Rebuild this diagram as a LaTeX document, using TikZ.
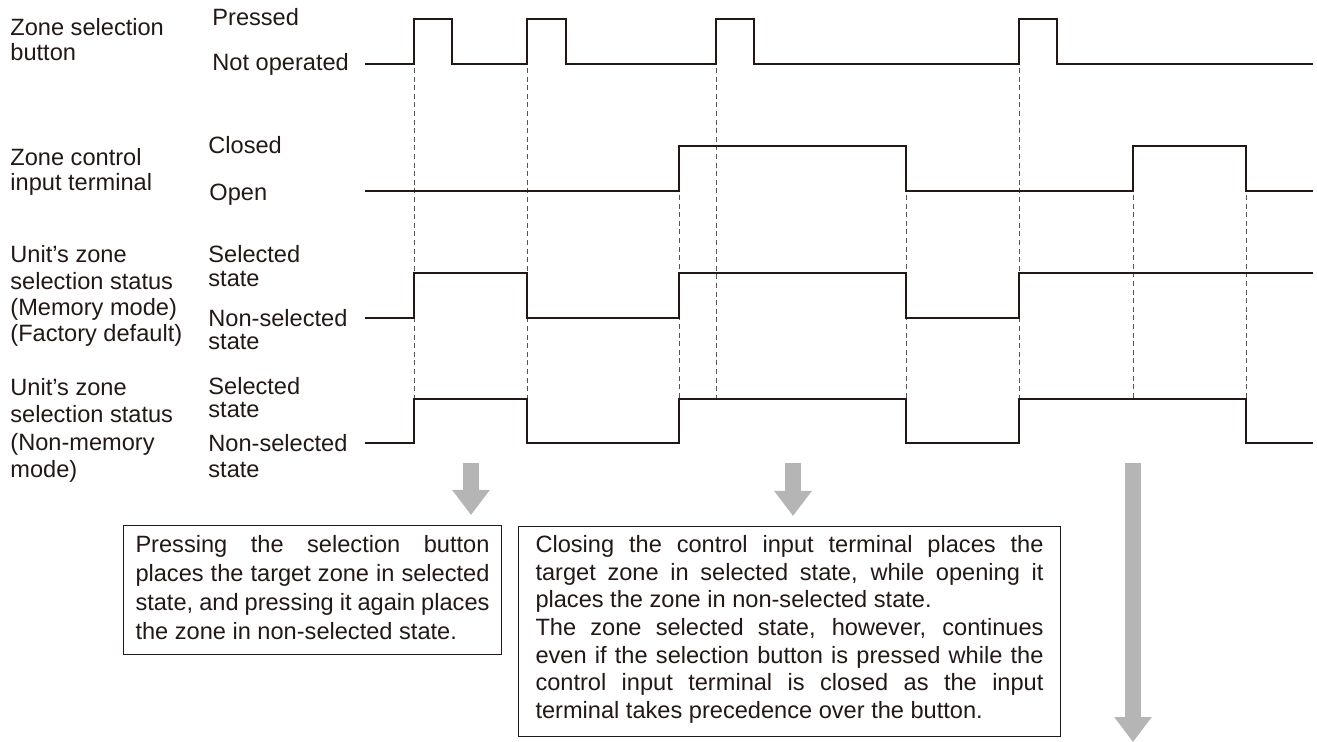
\documentclass[tikz,border=0pt]{standalone}
\usepackage{fontspec}
\setmainfont{Liberation Sans}
\usetikzlibrary{arrows.meta}

\definecolor{ink}{HTML}{231815}
\definecolor{guidegray}{HTML}{555555}
\definecolor{arrowgray}{HTML}{B5B5B5}

\tikzset{
  wave/.style={draw=ink, line width=1.1pt, line join=miter},
  guide/.style={draw=guidegray, line width=0.45pt, dash pattern=on 2.5pt off 1.8pt},
  lbl/.style={anchor=base west, align=left, inner sep=0pt, text=ink,
    font=\fontsize{11.8}{#1}\selectfont},
  lbl/.default=12.5,
  bigarrow/.style={draw=arrowgray, line width=8pt, -{Triangle[width=18pt,length=12.5pt]}},
  notebox/.style={draw=ink, line width=0.5pt, anchor=north west, inner ysep=0pt,
    align=justify, text=ink}
}

\begin{document}
\begin{tikzpicture}[x=0.5pt, y=-0.5pt]
    \useasboundingbox (0,0) rectangle (1317,742);

    % Signal names and levels (base = last line)
    \node[lbl] (btnname) at (10,61) {Zone selection\\button};
    \node[lbl] (btnon) at (212,26) {Pressed};
    \node[lbl] (btnoff) at (212,71) {Not operated};
    \node[lbl] (termname) at (10,191) {Zone control\\input terminal};
    \node[lbl] (termon) at (208,154) {Closed};
    \node[lbl] (termoff) at (209,201) {Open};
    \node[lbl=13.2] (memname) at (10,342) {Unit's zone\\selection status\\(Memory mode)\\(Factory default)};
    \node[lbl=12] (memon) at (208,287) {Selected\\state};
    \node[lbl=11.7] (memoff) at (208,350) {Non-selected\\state};
    \node[lbl=13.8] (nmemname) at (10,478) {Unit's zone\\selection status\\(Non-memory\\mode)};
    \node[lbl=11.7] (nmemon) at (208,418) {Selected\\state};
    \node[lbl=13] (nmemoff) at (208,478) {Non-selected\\state};

    % Timing guides
    \foreach \x/\y in {414/64, 527/64, 716/64, 1019/64, 679/191, 906/191, 1133/191, 1246/191}
        \draw[guide] (\x,\y+4) -- (\x,399);

    % Waveforms
    \draw[wave] (365,64) -- (414,64) -- (414,19) -- (452,19) -- (452,64) -- (527,64) -- (527,19)
        -- (566,19) -- (566,64) -- (716,64) -- (716,19) -- (754,19) -- (754,64) -- (1019,64)
        -- (1019,19) -- (1057,19) -- (1057,64) -- (1313,64);
    \draw[wave] (365,191) -- (679,191) -- (679,146) -- (906,146) -- (906,191) -- (1133,191)
        -- (1133,146) -- (1246,146) -- (1246,191) -- (1313,191);
    \draw[wave] (365,318) -- (414,318) -- (414,273) -- (527,273) -- (527,318) -- (679,318)
        -- (679,273) -- (906,273) -- (906,318) -- (1019,318) -- (1019,273) -- (1313,273);
    \draw[wave] (365,443) -- (414,443) -- (414,399) -- (527,399) -- (527,443) -- (679,443)
        -- (679,399) -- (906,399) -- (906,443) -- (1019,443) -- (1019,399) -- (1246,399)
        -- (1246,443) -- (1313,443);

    % Notes
    \node[notebox, inner xsep=6pt, text width=177pt, font=\fontsize{11.8}{14.5}\selectfont] (box1) at (123,525)
        {\tolerance=10000 \hyphenpenalty=10000 \noindent\rule{0pt}{13.5pt}Pressing the selection button\linebreak
        places the target zone in selected\linebreak state, and pressing it again places\linebreak
        the zone in non-selected state.\rule[-7.5pt]{0pt}{7.5pt}};
    \node[notebox, inner xsep=8.5pt, text width=254pt, font=\fontsize{11.8}{13.85}\selectfont] (box2) at (518,526)
        {\tolerance=10000 \hyphenpenalty=10000 \noindent\rule{0pt}{13pt}Closing the control input terminal places the\linebreak
        target zone in selected state, while opening it\linebreak places the zone in non-selected state.\par
        \noindent The zone selected state, however, continues\linebreak even if the selection button is pressed while the\linebreak
        control input terminal is closed as the input\linebreak terminal takes precedence over the button.\rule[-9pt]{0pt}{9pt}};

    % Arrows
    \coordinate (a1top) at (471,463);
    \coordinate (a2top) at (793,463);
    \coordinate (a3top) at (1133,463);
    \coordinate (a3end) at (1133,742);
    \draw[bigarrow, shorten >=5pt] (a1top) -- (a1top |- box1.north);
    \draw[bigarrow, shorten >=5pt] (a2top) -- (a2top |- box2.north);
    \draw[bigarrow] (a3top) -- (a3end);
\end{tikzpicture}
\end{document}
